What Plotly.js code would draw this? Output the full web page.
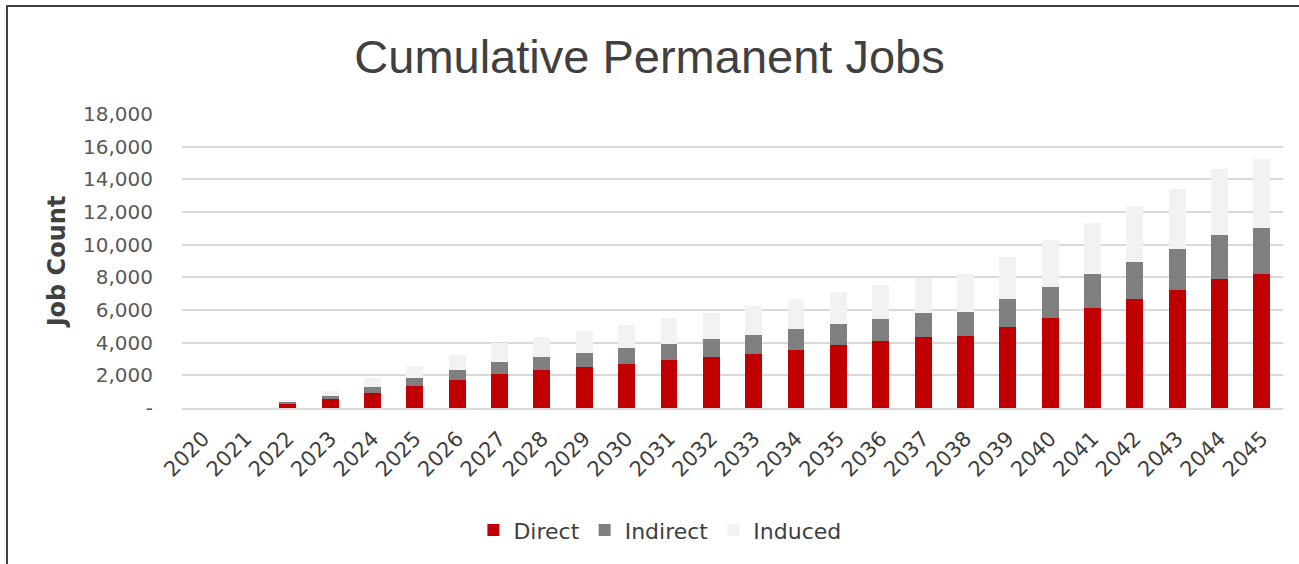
<!DOCTYPE html>
<html>
<head>
<meta charset="utf-8">
<script src="https://cdn.plot.ly/plotly-3.0.1.min.js"></script>
<style>
  html, body { margin: 0; padding: 0; background: #fff; }
  #wrap { position: relative; width: 1299px; height: 564px; }
  #chart { width: 1299px; height: 564px; }
  #frame { position: absolute; left: 6px; top: 5px; width: 1400px; height: 700px;
           border-left: 2px solid #404040; border-top: 2px solid #404040; pointer-events: none; }
</style>
</head>
<body>
<div id="wrap">
  <div id="chart"></div>
  <div id="frame"></div>
</div>
<script>
const years = ['2020','2021','2022','2023','2024','2025','2026','2027','2028','2029','2030','2031','2032',
               '2033','2034','2035','2036','2037','2038','2039','2040','2041','2042','2043','2044','2045'];
const direct   = [0,0,270,530,940,1330,1700,2090,2320,2510,2690,2920,3120,3310,3550,3840,4090,4360,4400,4970,5520,6110,6690,7240,7910,8220];
const indirect = [0,0,100,230,330,480,620,740,800,880,990,1000,1090,1170,1260,1300,1380,1430,1500,1710,1900,2070,2250,2470,2660,2780];
const induced  = [0,0,120,310,540,740,940,1130,1230,1330,1420,1570,1630,1770,1870,1970,2070,2180,2320,2590,2870,3150,3430,3710,4070,4240];
const yTickVals = [0,2000,4000,6000,8000,10000,12000,14000,16000,18000];
const yTickText = ['-','2,000','4,000','6,000','8,000','10,000','12,000','14,000','16,000','18,000'];

const FONT = '"Century Gothic", "DejaVu Sans", sans-serif';
const mk = (name, y, color) => ({
  type: 'bar', name: name, x: years, y: y,
  marker: { color: color, line: { width: 0 } },
  hoverinfo: 'x+y+name'
});
const data = [
  mk('Direct', direct, '#c00000'),
  mk('Indirect', indirect, '#7f7f7f'),
  mk('Induced', induced, '#f2f2f2')
];
const layout = {
  width: 1299, height: 564,
  margin: { l: 182, r: 16, t: 114, b: 156 },
  paper_bgcolor: '#ffffff', plot_bgcolor: '#ffffff',
  barmode: 'stack', bargap: 0.6,
  font: { family: FONT, color: '#404040' },
  title: { text: 'Cumulative Permanent Jobs', x: 0.5, xref: 'container', xanchor: 'center',
           y: 0.9, yref: 'container', yanchor: 'middle',
           font: { family: '"Liberation Sans", Arial, sans-serif', size: 47, color: '#404040' } },
  xaxis: { type: 'category', tickangle: -45, tickfont: { size: 21, color: '#404040' },
           showgrid: false, showline: true, linecolor: '#d9d9d9', linewidth: 2, ticks: '',
           ticklabelstandoff: 8, fixedrange: true },
  yaxis: { range: [0, 18000], tickvals: yTickVals, ticktext: yTickText,
           tickfont: { size: 20, color: '#595959' }, gridcolor: '#d9d9d9', gridwidth: 2,
           zeroline: false, showline: false, ticks: '', ticklabelstandoff: 28,
           title: { text: '<b>Job Count</b>', standoff: 10, font: { size: 24, color: '#404040' } } },
  legend: { orientation: 'h', x: 0.508, xref: 'container', xanchor: 'center', y: 0.06, yref: 'container',
            yanchor: 'middle', font: { size: 22, color: '#404040' }, traceorder: 'normal',
            itemwidth: 30 },
  showlegend: true
};
Plotly.newPlot('chart', data, layout, { displayModeBar: false, staticPlot: true });
</script>
</body>
</html>
